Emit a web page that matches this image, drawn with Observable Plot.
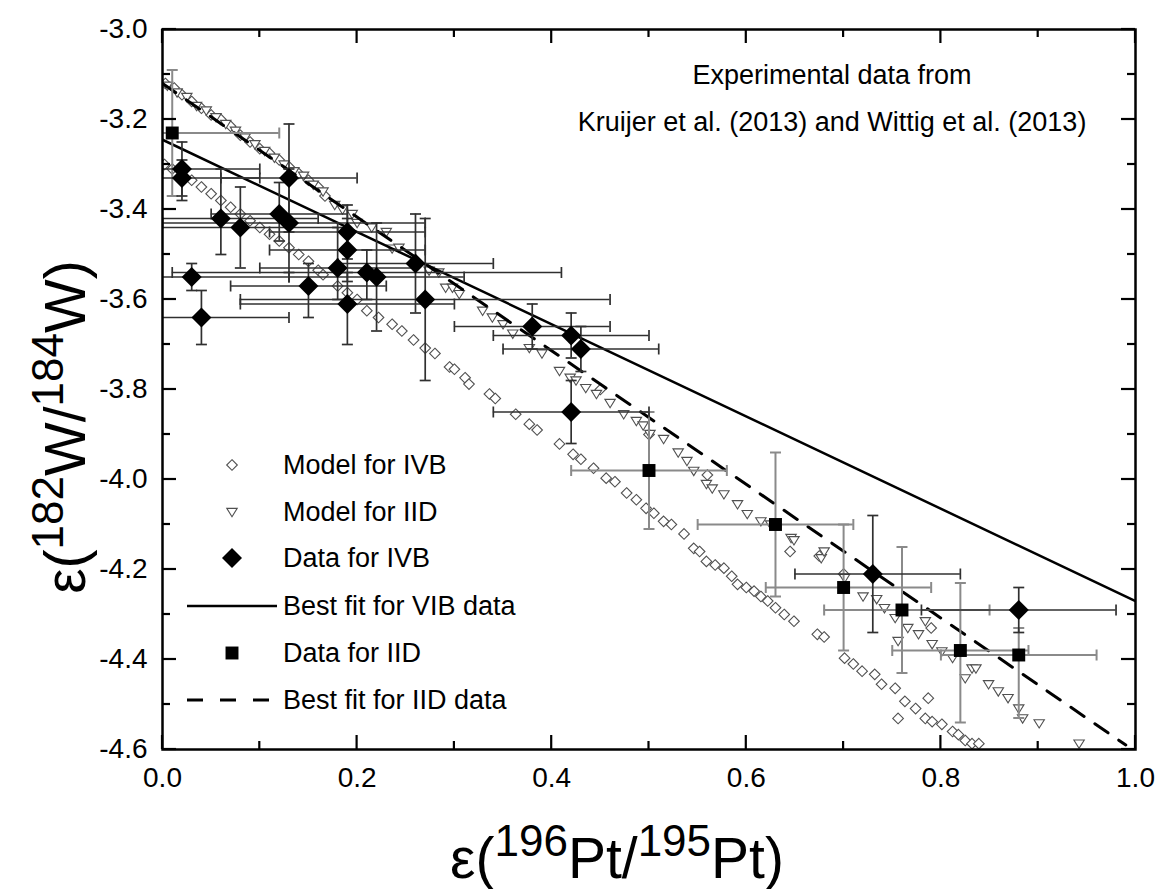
<!DOCTYPE html>
<html>
<head>
<meta charset="utf-8">
<script src="https://cdn.jsdelivr.net/npm/d3@7"></script>
<script src="https://cdn.jsdelivr.net/npm/@observablehq/plot@0.6"></script>
<style>
  html, body { margin: 0; padding: 0; background: #fff; }
  #chart { width: 1161px; height: 889px; }
</style>
</head>
<body>
<div id="chart"></div>
<script>
// ---------- data ----------
const xMajor = [0, 0.2, 0.4, 0.6, 0.8, 1.0];
const xMinor = [0.1, 0.3, 0.5, 0.7, 0.9];
const yMajor = [-3.0, -3.2, -3.4, -3.6, -3.8, -4.0, -4.2, -4.4, -4.6];
const yMinor = [-3.1, -3.3, -3.5, -3.7, -3.9, -4.1, -4.3, -4.5];

// Model for IVB (hollow diamonds)
const modelIVB = [
  [0.003,-3.12],[0.012,-3.13],[0.02,-3.145],[0.03,-3.16],[0.04,-3.175],[0.05,-3.19],[0.06,-3.2],
  [0.07,-3.215],[0.08,-3.235],[0.09,-3.25],[0.1,-3.265],[0.11,-3.275],[0.12,-3.29],[0.13,-3.305],
  [0.14,-3.32],[0.15,-3.335],[0.16,-3.35],[0.167,-3.37],
  [0.002,-3.30],[0.01,-3.31],[0.02,-3.325],[0.03,-3.335],[0.04,-3.35],[0.05,-3.365],[0.06,-3.38],
  [0.07,-3.395],[0.08,-3.41],[0.09,-3.425],[0.1,-3.44],[0.11,-3.455],[0.12,-3.47],[0.13,-3.485],
  [0.14,-3.5],[0.15,-3.515],[0.16,-3.535],[0.165,-3.545],[0.18,-3.57],[0.19,-3.585],[0.2,-3.6],
  [0.21,-3.625],[0.222,-3.64],[0.236,-3.655],[0.246,-3.67],[0.258,-3.69],[0.27,-3.708],[0.28,-3.72],
  [0.295,-3.75],[0.3,-3.755],[0.311,-3.774],[0.315,-3.788],[0.336,-3.81],[0.342,-3.82],[0.363,-3.855],
  [0.377,-3.877],[0.385,-3.89],[0.408,-3.921],[0.422,-3.944],[0.43,-3.955],[0.443,-3.975],[0.456,-3.997],
  [0.465,-4.005],[0.477,-4.03],[0.487,-4.045],[0.497,-4.064],[0.505,-4.075],[0.515,-4.093],[0.523,-4.1],
  [0.536,-4.121],[0.546,-4.153],[0.552,-4.16],[0.559,-4.182],[0.568,-4.19],[0.577,-4.197],[0.585,-4.215],
  [0.591,-4.233],[0.6,-4.24],[0.608,-4.248],[0.615,-4.26],[0.622,-4.27],[0.63,-4.285],[0.639,-4.30],
  [0.649,-4.315],[0.673,-4.344],[0.68,-4.35],[0.701,-4.397],[0.71,-4.41],[0.719,-4.426],[0.732,-4.433],
  [0.739,-4.455],[0.753,-4.464],[0.756,-4.531],[0.763,-4.493],[0.774,-4.509],[0.787,-4.486],[0.784,-4.531],
  [0.791,-4.538],[0.801,-4.544],[0.812,-4.56],[0.818,-4.567],[0.825,-4.58],[0.832,-4.587],[0.839,-4.587],
  [0.45,-3.80],[0.50,-3.90],[0.56,-3.99],[0.645,-4.16],[0.675,-4.17],[0.70,-4.21],[0.79,-4.33]
];

// Model for IID (hollow down-triangles)
const modelIID = [
  [0.005,-3.125],[0.015,-3.14],[0.025,-3.15],[0.035,-3.17],[0.045,-3.18],[0.055,-3.195],[0.065,-3.21],
  [0.075,-3.225],[0.085,-3.24],[0.095,-3.255],[0.105,-3.27],[0.115,-3.285],[0.125,-3.3],[0.135,-3.315],
  [0.145,-3.325],[0.155,-3.345],[0.165,-3.36],
  [0.177,-3.39],[0.185,-3.40],[0.195,-3.41],[0.2,-3.43],[0.215,-3.44],[0.23,-3.45],[0.236,-3.487],
  [0.243,-3.485],[0.274,-3.536],[0.284,-3.54],[0.291,-3.574],[0.298,-3.574],[0.305,-3.588],[0.329,-3.625],
  [0.339,-3.64],[0.35,-3.655],[0.36,-3.676],[0.377,-3.708],[0.39,-3.72],[0.408,-3.759],[0.419,-3.774],
  [0.425,-3.78],[0.435,-3.797],[0.446,-3.81],[0.46,-3.83],[0.474,-3.855],[0.487,-3.87],[0.494,-3.88],
  [0.501,-3.899],[0.515,-3.91],[0.53,-3.94],[0.539,-3.959],[0.546,-3.981],[0.559,-4.01],[0.565,-4.02],
  [0.577,-4.033],[0.591,-4.055],[0.601,-4.077],[0.615,-4.093],[0.625,-4.1],[0.646,-4.13],[0.649,-4.135],
  [0.677,-4.175],[0.68,-4.16],[0.701,-4.219],[0.72,-4.26],[0.734,-4.266],[0.742,-4.286],[0.753,-4.308],
  [0.766,-4.33],[0.756,-4.359],[0.777,-4.344],[0.784,-4.315],[0.791,-4.366],[0.801,-4.382],[0.812,-4.397],
  [0.825,-4.442],[0.832,-4.42],[0.836,-4.42],[0.849,-4.455],[0.859,-4.471],[0.869,-4.486],[0.88,-4.509],
  [0.884,-4.531],[0.901,-4.542],[0.942,-4.587]
];

// Data for IVB: x, y, x-error low/high, y-error low/high
const ivbX    = [0.02, 0.02, 0.13, 0.06, 0.08, 0.12, 0.13, 0.03, 0.04, 0.15, 0.18, 0.19, 0.19, 0.19, 0.21, 0.22, 0.26, 0.27, 0.38, 0.42, 0.43, 0.42, 0.73, 0.88];
const ivbY    = [-3.31, -3.33, -3.33, -3.42, -3.44, -3.41, -3.43, -3.55, -3.64, -3.57, -3.53, -3.49, -3.45, -3.61, -3.54, -3.55, -3.52, -3.60, -3.66, -3.68, -3.71, -3.85, -4.21, -4.29];
const ivbXlo  = [0.00, -0.06, 0.06, -0.04, -0.02, 0.05, 0.00, -0.07, -0.05, 0.07, 0.10, 0.11, 0.11, 0.08, 0.01, 0.13, 0.18, 0.08, 0.30, 0.34, 0.35, 0.34, 0.65, 0.78];
const ivbXhi  = [0.10, 0.10, 0.20, 0.16, 0.18, 0.19, 0.27, 0.13, 0.13, 0.23, 0.26, 0.27, 0.27, 0.30, 0.41, 0.31, 0.34, 0.46, 0.46, 0.50, 0.51, 0.50, 0.82, 0.98];
const ivbYlo  = [-3.25, -3.29, -3.21, -3.31, -3.35, -3.34, -3.31, -3.52, -3.58, -3.52, -3.44, -3.42, -3.39, -3.54, -3.49, -3.43, -3.41, -3.42, -3.61, -3.63, -3.66, -3.78, -4.08, -4.24];
const ivbYhi  = [-3.38, -3.37, -3.45, -3.50, -3.53, -3.47, -3.54, -3.58, -3.70, -3.64, -3.60, -3.56, -3.51, -3.70, -3.60, -3.67, -3.63, -3.78, -3.71, -3.73, -3.76, -3.92, -4.34, -4.34];

// Data for IID
const iidX   = [0.01, 0.50, 0.63, 0.70, 0.76, 0.82, 0.88];
const iidY   = [-3.23, -3.98, -4.10, -4.24, -4.29, -4.38, -4.39];
const iidXlo = [-0.10, 0.42, 0.55, 0.62, 0.68, 0.75, 0.80];
const iidXhi = [0.12, 0.58, 0.71, 0.79, 0.85, 0.89, 0.96];
const iidYlo = [-3.09, -3.85, -3.94, -4.10, -4.15, -4.23, -4.33];
const iidYhi = [-3.37, -4.11, -4.26, -4.38, -4.43, -4.54, -4.53];

// Best fit lines (end points)
const fitIVB = [[0, -3.245], [1.0, -4.27]];
const fitIID = [[0, -3.12], [0.99, -4.59]];

// ---------- build tables ----------
const ivb = ivbX.map((x, i) => ({x, y: ivbY[i], xlo: ivbXlo[i], xhi: ivbXhi[i], ylo: ivbYlo[i], yhi: ivbYhi[i]}));
const iid = iidX.map((x, i) => ({x, y: iidY[i], xlo: iidXlo[i], xhi: iidXhi[i], ylo: iidYlo[i], yhi: iidYhi[i]}));

// ---------- symbols ----------
const triDown = {draw(ctx, size) { const r = Math.sqrt(size / Math.PI); ctx.moveTo(-r, -0.7 * r); ctx.lineTo(r, -0.7 * r); ctx.lineTo(0, 0.9 * r); ctx.closePath(); }};
const capV = {draw(ctx, size) { const r = Math.sqrt(size / Math.PI); ctx.moveTo(0, -r); ctx.lineTo(0, r); }};
const capH = {draw(ctx, size) { const r = Math.sqrt(size / Math.PI); ctx.moveTo(-r, 0); ctx.lineTo(r, 0); }};

const FONT = "'Liberation Sans', Arial, Helvetica, sans-serif";
const fmt = d => d.toFixed(1);
const ivbBar = "#303030", iidBar = "#8a8a8a", modelStroke = "#505050";

const svg = Plot.plot({
  width: 1161, height: 889,
  marginLeft: 162, marginRight: 26, marginTop: 29, marginBottom: 140,
  style: {fontFamily: FONT, background: "white", color: "black"},
  x: {domain: [0, 1], label: null, axis: null},
  y: {domain: [-4.6, -3.0], label: null, axis: null},
  marks: [
    // models
    Plot.dot(modelIVB, {x: d => d[0], y: d => d[1], symbol: "diamond2", r: 4.8, fill: "white", stroke: modelStroke, strokeWidth: 1.1, clip: true}),
    Plot.dot(modelIID, {x: d => d[0], y: d => d[1], symbol: triDown, r: 5.2, fill: "white", stroke: modelStroke, strokeWidth: 1.1, clip: true}),
    // fits
    Plot.line(fitIVB, {x: d => d[0], y: d => d[1], stroke: "black", strokeWidth: 2.5, clip: true}),
    Plot.line(fitIID, {x: d => d[0], y: d => d[1], stroke: "black", strokeWidth: 3, strokeDasharray: "16,13", clip: true}),
    // IID error bars
    Plot.ruleY(iid, {y: "y", x1: "xlo", x2: "xhi", stroke: iidBar, strokeWidth: 2, clip: true}),
    Plot.ruleX(iid, {x: "x", y1: "ylo", y2: "yhi", stroke: iidBar, strokeWidth: 2, clip: true}),
    Plot.dot(iid, {x: "xlo", y: "y", symbol: capV, r: 5.5, fill: "none", stroke: iidBar, strokeWidth: 2, clip: true}),
    Plot.dot(iid, {x: "xhi", y: "y", symbol: capV, r: 5.5, fill: "none", stroke: iidBar, strokeWidth: 2, clip: true}),
    Plot.dot(iid, {x: "x", y: "ylo", symbol: capH, r: 5.5, fill: "none", stroke: iidBar, strokeWidth: 2, clip: true}),
    Plot.dot(iid, {x: "x", y: "yhi", symbol: capH, r: 5.5, fill: "none", stroke: iidBar, strokeWidth: 2, clip: true}),
    // IVB error bars
    Plot.ruleY(ivb, {y: "y", x1: "xlo", x2: "xhi", stroke: ivbBar, strokeWidth: 1.7, clip: true}),
    Plot.ruleX(ivb, {x: "x", y1: "ylo", y2: "yhi", stroke: ivbBar, strokeWidth: 1.7, clip: true}),
    Plot.dot(ivb, {x: "xlo", y: "y", symbol: capV, r: 5.5, fill: "none", stroke: ivbBar, strokeWidth: 1.7, clip: true}),
    Plot.dot(ivb, {x: "xhi", y: "y", symbol: capV, r: 5.5, fill: "none", stroke: ivbBar, strokeWidth: 1.7, clip: true}),
    Plot.dot(ivb, {x: "x", y: "ylo", symbol: capH, r: 5.5, fill: "none", stroke: ivbBar, strokeWidth: 1.7, clip: true}),
    Plot.dot(ivb, {x: "x", y: "yhi", symbol: capH, r: 5.5, fill: "none", stroke: ivbBar, strokeWidth: 1.7, clip: true}),
    // data markers
    Plot.dot(iid, {x: "x", y: "y", symbol: "square", r: 7.3, fill: "black", stroke: "none"}),
    Plot.dot(ivb, {x: "x", y: "y", symbol: "diamond2", r: 9, fill: "black", stroke: "none"}),
    // tick labels
    Plot.axisX(xMajor, {anchor: "bottom", tickSize: 0, tickPadding: 18, tickFormat: fmt, fontSize: 28, label: null}),
    Plot.axisY(yMajor, {anchor: "left", tickSize: 0, tickPadding: 15, tickFormat: fmt, fontSize: 28, label: null}),
    Plot.frame({stroke: "black", strokeWidth: 2.5})
  ]
});

document.getElementById("chart").appendChild(svg);

const s = d3.select(svg);
const X = svg.scale("x"), Y = svg.scale("y");
const [x0, x1] = X.range, [y0, y1] = Y.range; // y0 bottom, y1 top

// ---------- inward ticks on all four sides (positions from Plot's scales) ----------
const tg = s.append("g").attr("stroke", "black").attr("stroke-width", 2.2);
function ticksX(vals, len) {
  vals.forEach(v => {
    const px = X.apply(v);
    tg.append("line").attr("x1", px).attr("x2", px).attr("y1", y0).attr("y2", y0 - len);
    tg.append("line").attr("x1", px).attr("x2", px).attr("y1", y1).attr("y2", y1 + len);
  });
}
function ticksY(vals, len) {
  vals.forEach(v => {
    const py = Y.apply(v);
    tg.append("line").attr("x1", x0).attr("x2", x0 + len).attr("y1", py).attr("y2", py);
    tg.append("line").attr("x1", x1).attr("x2", x1 - len).attr("y1", py).attr("y2", py);
  });
}
ticksX(xMajor, 14); ticksX(xMinor, 8);
ticksY(yMajor, 14); ticksY(yMinor, 8);

// ---------- titles, annotation and legend ----------
function richTitle(g, parts, big, small, rise) {
  parts.forEach(([txt, sup], i) => {
    const prevSup = i > 0 && parts[i - 1][1];
    const t = g.append("tspan").text(txt).attr("font-size", sup ? small : big);
    if (sup && !prevSup) t.attr("dy", -rise);
    else if (!sup && prevSup) t.attr("dy", rise);
  });
}

const xt = s.append("text").attr("x", 617).attr("y", 878).attr("text-anchor", "middle")
  .attr("font-family", FONT).attr("fill", "black");
richTitle(xt, [["ε(", false], ["196", true], ["Pt/", false], ["195", true], ["Pt)", false]], 57, 44, 22);

const yt = s.append("text").attr("transform", "translate(85,427) rotate(-90)").attr("text-anchor", "middle")
  .attr("font-family", FONT).attr("fill", "black");
richTitle(yt, [["ε(", false], ["182", true], ["W/", false], ["184", true], ["W)", false]], 57, 44, 22);

s.append("text").attr("x", 832).attr("y", 75).attr("dy", "0.35em").attr("text-anchor", "middle")
  .attr("font-family", FONT).attr("font-size", 27).text("Experimental data from");
s.append("text").attr("x", 832).attr("y", 122).attr("dy", "0.35em").attr("text-anchor", "middle")
  .attr("font-family", FONT).attr("font-size", 27).text("Kruijer et al. (2013) and Wittig et al. (2013)");

const legendItems = [
  {label: "Model for IVB", kind: "hdiamond", y: 465},
  {label: "Model for IID", kind: "tri", y: 512},
  {label: "Data for IVB", kind: "fdiamond", y: 558},
  {label: "Best fit for VIB data", kind: "solid", y: 606},
  {label: "Data for IID", kind: "square", y: 653},
  {label: "Best fit for IID data", kind: "dash", y: 700}
];
const lg = s.append("g");
legendItems.forEach(it => {
  const cx = 232;
  if (it.kind === "hdiamond") {
    lg.append("path").attr("transform", `translate(${cx},${it.y})`).attr("d", d3.symbol(d3.symbolDiamond2, Math.PI * 4.8 * 4.8)())
      .attr("fill", "white").attr("stroke", modelStroke).attr("stroke-width", 1.1);
  } else if (it.kind === "tri") {
    lg.append("path").attr("transform", `translate(${cx},${it.y})`).attr("d", d3.symbol(triDown, Math.PI * 5.2 * 5.2)())
      .attr("fill", "white").attr("stroke", modelStroke).attr("stroke-width", 1.1);
  } else if (it.kind === "fdiamond") {
    lg.append("path").attr("transform", `translate(${cx},${it.y})`).attr("d", d3.symbol(d3.symbolDiamond2, Math.PI * 9 * 9)())
      .attr("fill", "black");
  } else if (it.kind === "square") {
    lg.append("path").attr("transform", `translate(${cx},${it.y})`).attr("d", d3.symbol(d3.symbolSquare, Math.PI * 7.3 * 7.3)())
      .attr("fill", "black");
  } else {
    lg.append("line").attr("x1", 187).attr("x2", 277).attr("y1", it.y).attr("y2", it.y)
      .attr("stroke", "black").attr("stroke-width", it.kind === "dash" ? 3 : 2.5)
      .attr("stroke-dasharray", it.kind === "dash" ? "16,17" : null);
  }
  lg.append("text").attr("x", 283).attr("y", it.y).attr("dy", "0.35em").attr("text-anchor", "start")
    .attr("font-family", FONT).attr("font-size", 27).attr("fill", "black").text(it.label);
});
</script>
</body>
</html>
